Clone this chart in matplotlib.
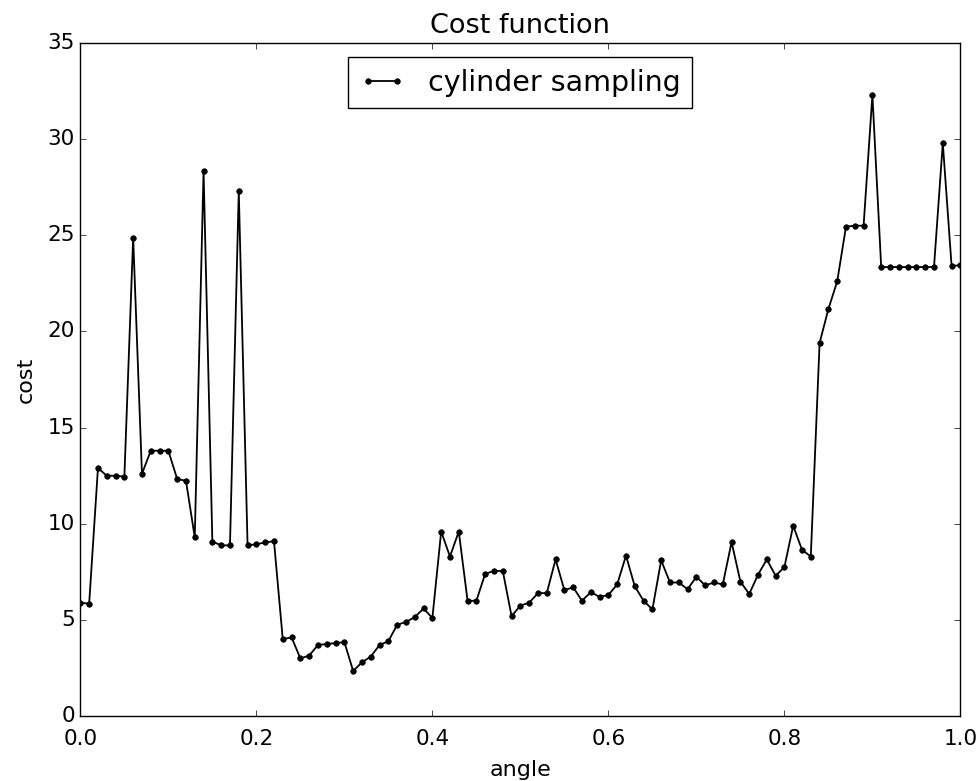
import numpy as np
import matplotlib
matplotlib.use("Agg")
import matplotlib.pyplot as plt

# values, angle step 0.01
angle = np.round(np.arange(0, 1.001, 0.01), 2)
cost = [
    5.9, 5.85, 12.9, 12.5, 12.5, 12.45, 24.88, 12.6, 13.8, 13.8,
    13.8, 12.33, 12.24, 9.3, 28.35, 9.08, 8.88, 8.88, 27.3, 8.88,
    8.94, 9.03, 9.1, 4.0, 4.1, 3.0, 3.15, 3.7, 3.75, 3.8,
    3.85, 2.35, 2.8, 3.1, 3.7, 3.9, 4.75, 4.9, 5.15, 5.6,
    5.1, 9.6, 8.3, 9.6, 6.0, 6.0, 7.4, 7.55, 7.55, 5.2,
    5.75, 5.9, 6.4, 6.4, 8.15, 6.55, 6.7, 6.0, 6.45, 6.2,
    6.3, 6.85, 8.35, 6.75, 6.0, 5.55, 8.1, 6.95, 6.95, 6.6,
    7.25, 6.8, 6.95, 6.85, 9.05, 7.0, 6.35, 7.35, 8.15, 7.3,
    7.75, 9.9, 8.65, 8.3, 19.4, 21.17, 22.6, 25.45, 25.5, 25.5,
    32.3, 23.35, 23.35, 23.35, 23.35, 23.35, 23.35, 23.35, 29.8, 23.4,
    23.45,
]

plt.style.use('classic')
fig = plt.figure(figsize=(9.8, 7.81), dpi=100)
ax = fig.add_axes([0.082, 0.083, 0.898, 0.862])
ax.plot(angle, cost, 'k.-', markersize=8, linewidth=1.3, label='cylinder sampling')
ax.set_xlim(0, 1)
ax.set_ylim(0, 35)
ax.set_title("Cost function", fontsize=19.5, pad=7)
ax.set_xlabel("angle", fontsize=16, labelpad=8)
ax.set_ylabel("cost", fontsize=16, labelpad=8)
ax.tick_params(labelsize=15.5)
ax.tick_params(axis='x', pad=9)
ax.legend(loc='upper center', fontsize=20.5, handlelength=1.6)
fig.savefig("out.png", dpi=100)
